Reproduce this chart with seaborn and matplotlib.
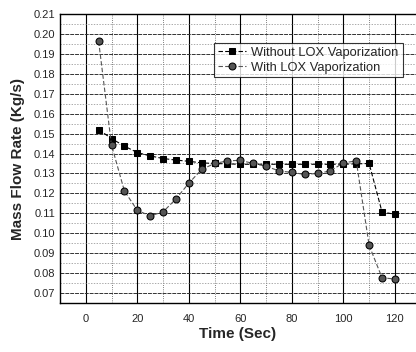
import matplotlib
matplotlib.use('Agg')
import matplotlib.pyplot as plt
import seaborn as sns
import pandas as pd
from matplotlib.ticker import MultipleLocator

# data
time_sec = [5, 10, 15, 20, 25, 30, 35, 40, 45, 50, 55, 60,
            65, 70, 75, 80, 85, 90, 95, 100, 105, 110, 115, 120]
without_lox = [0.152, 0.1475, 0.1437, 0.1405, 0.1388, 0.1375, 0.1367, 0.1361,
               0.1353, 0.1350, 0.1348, 0.1346, 0.1346, 0.1346, 0.1346, 0.1346,
               0.1346, 0.1346, 0.1346, 0.1347, 0.1348, 0.1350, 0.1107, 0.1095]
with_lox = [0.1963, 0.1442, 0.1212, 0.1115, 0.1087, 0.1107, 0.1172, 0.1251,
            0.1320, 0.1350, 0.1363, 0.1366, 0.1350, 0.1336, 0.1313, 0.1305,
            0.1295, 0.1300, 0.1313, 0.1353, 0.1363, 0.0939, 0.0777, 0.0770]
series_names = ['Without LOX Vaporization', 'With LOX Vaporization']

df = pd.DataFrame({'Time': time_sec * 2,
                   'Rate': without_lox + with_lox,
                   'Series': [series_names[0]] * len(time_sec) + [series_names[1]] * len(time_sec)})

sns.set_style('white')
plt.rcParams['font.family'] = ['Liberation Sans', 'DejaVu Sans']

fig = plt.figure(figsize=(4.16, 3.52), dpi=100)
# axes runs to the right edge of the picture
ax = fig.add_axes([60 / 416, 1 - 303 / 352, (415.5 - 60) / 416, (303 - 14) / 352])

sns.lineplot(data=df, x='Time', y='Rate', hue='Series', style='Series',
             markers={series_names[0]: 's', series_names[1]: 'o'},
             dashes={series_names[0]: (4, 2), series_names[1]: (4, 2)},
             palette={series_names[0]: 'black', series_names[1]: '#555555'},
             markersize=5, linewidth=0.8, markeredgecolor='black',
             ax=ax)

ax.set_xlim(-10, 128)
ax.set_ylim(0.065, 0.21)
ax.xaxis.set_major_locator(MultipleLocator(20))
ax.xaxis.set_minor_locator(MultipleLocator(10))
ax.yaxis.set_major_locator(MultipleLocator(0.01))
ax.yaxis.set_minor_locator(MultipleLocator(0.005))
ax.yaxis.set_major_formatter(matplotlib.ticker.FormatStrFormatter('%.2f'))

ax.grid(which='major', axis='x', color='black', linewidth=0.8)
ax.grid(which='minor', axis='x', color='#555555', linewidth=0.6, linestyle=':')
ax.grid(which='major', axis='y', color='#333333', linewidth=0.7, linestyle=(0, (4, 1)))
ax.grid(which='minor', axis='y', color='#888888', linewidth=0.5, linestyle=(0, (2, 2)))
ax.set_axisbelow(True)

ax.tick_params(which='both', direction='in', labelsize=8, length=3, width=0.8)
ax.tick_params(which='minor', length=2)
ax.tick_params(axis='x', pad=8)
for sp in ax.spines.values():
    sp.set_color('black')
    sp.set_linewidth(1.0)
ax.spines['right'].set_visible(False)

ax.set_xlabel('Time (Sec)', fontsize=11, fontweight='bold', labelpad=2)
ax.set_ylabel('Mass Flow Rate (Kg/s)', fontsize=11, fontweight='bold', labelpad=6)

leg = ax.legend(loc='upper left', fontsize=9.3, frameon=True,
                fancybox=False, edgecolor='black', handlelength=2.2,
                borderpad=0.3, labelspacing=0.2, handletextpad=0.4, borderaxespad=0)
leg.set_bbox_to_anchor((214 / 416, 1 - 43 / 352), transform=fig.transFigure)
leg.get_frame().set_linewidth(0.8)

fig.savefig('out.png', dpi=100)
